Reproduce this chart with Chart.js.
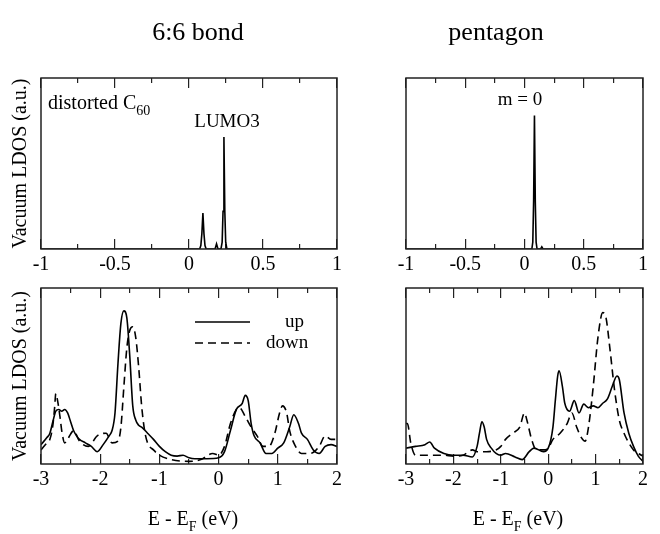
<!DOCTYPE html>
<html>
<head>
<meta charset="utf-8">
<script src="https://cdn.jsdelivr.net/npm/chart.js@4.4.1/dist/chart.umd.min.js"></script>
<style>
  html, body { margin: 0; padding: 0; background: #fff; overflow: hidden; }
  .box { position: absolute; }
</style>
</head>
<body>
<div class="box" style="left:0;top:0;width:356px;height:285px"><canvas id="bondTop"></canvas></div>
<div class="box" style="left:352px;top:0;width:310px;height:285px"><canvas id="pentTop"></canvas></div>
<div class="box" style="left:0;top:285px;width:356px;height:249px"><canvas id="bondBottom"></canvas></div>
<div class="box" style="left:352px;top:285px;width:310px;height:249px"><canvas id="pentBottom"></canvas></div>
<script>
// E - EF (eV), vacuum LDOS in arbitrary units (0..1 of panel height)
// top row: distorted C60 only, -1..1
var bondTop = [
    [-1, 0], [0.072, 0], [0.08, 0.02], [0.087, 0.09], [0.094, 0.21], [0.101, 0.09],
    [0.108, 0.02], [0.116, 0], [0.176, 0], [0.186, 0.03], [0.196, 0], [0.216, 0],
    [0.224, 0.04], [0.23, 0.22], [0.236, 0.655], [0.242, 0.22], [0.248, 0.04],
    [0.256, 0], [1, 0],
];
var pentTop = [
    [-1, 0], [0.062, 0], [0.07, 0.04], [0.077, 0.28], [0.084, 0.78], [0.091, 0.28],
    [0.098, 0.04], [0.106, 0], [0.136, 0], [0.146, 0.012], [0.156, 0], [1, 0],
];

// bottom row: spin up / spin down, -3..2
var bondUp = [
    [-3, 0.11], [-2.9, 0.15], [-2.85, 0.175], [-2.8, 0.24], [-2.75, 0.3], [-2.7, 0.31],
    [-2.65, 0.3], [-2.6, 0.31], [-2.55, 0.29], [-2.5, 0.24], [-2.45, 0.19], [-2.4, 0.16],
    [-2.35, 0.14], [-2.25, 0.12], [-2.15, 0.1], [-2.05, 0.07], [-1.95, 0.11], [-1.85, 0.16],
    [-1.8, 0.19], [-1.75, 0.29], [-1.7, 0.57], [-1.65, 0.8], [-1.6, 0.87], [-1.55, 0.83],
    [-1.5, 0.61], [-1.45, 0.33], [-1.4, 0.25], [-1.35, 0.22], [-1.3, 0.21], [-1.2, 0.175],
    [-1.1, 0.14], [-1.0, 0.1], [-0.9, 0.07], [-0.8, 0.05], [-0.7, 0.045], [-0.6, 0.05],
    [-0.5, 0.035], [-0.4, 0.03], [-0.2, 0.03], [0, 0.035], [0.1, 0.07], [0.2, 0.19],
    [0.3, 0.31], [0.4, 0.345], [0.45, 0.39], [0.5, 0.36], [0.55, 0.23], [0.6, 0.16],
    [0.7, 0.12], [0.8, 0.06], [0.9, 0.06], [1.0, 0.09], [1.1, 0.12], [1.2, 0.21],
    [1.27, 0.28], [1.35, 0.23], [1.4, 0.175], [1.5, 0.14], [1.6, 0.08], [1.7, 0.06],
    [1.8, 0.1], [1.9, 0.11], [2.0, 0.1],
];
var bondDown = [
    [-3, 0.08], [-2.9, 0.12], [-2.85, 0.14], [-2.8, 0.22], [-2.77, 0.32], [-2.75, 0.4],
    [-2.72, 0.36], [-2.68, 0.27], [-2.65, 0.19], [-2.6, 0.12], [-2.55, 0.14], [-2.5, 0.17],
    [-2.45, 0.19], [-2.35, 0.13], [-2.2, 0.1], [-2.05, 0.16], [-1.9, 0.175], [-1.8, 0.12],
    [-1.7, 0.13], [-1.65, 0.21], [-1.6, 0.44], [-1.55, 0.66], [-1.5, 0.76], [-1.45, 0.78],
    [-1.4, 0.72], [-1.35, 0.55], [-1.3, 0.33], [-1.25, 0.19], [-1.2, 0.12], [-1.1, 0.08],
    [-1.0, 0.05], [-0.8, 0.025], [-0.5, 0.015], [-0.3, 0.025], [-0.1, 0.06], [0, 0.05],
    [0.1, 0.1], [0.2, 0.23], [0.3, 0.31], [0.35, 0.32], [0.45, 0.27], [0.55, 0.21],
    [0.65, 0.16], [0.75, 0.1], [0.85, 0.1], [0.95, 0.175], [1.03, 0.29], [1.08, 0.33],
    [1.15, 0.29], [1.2, 0.19], [1.3, 0.1], [1.4, 0.06], [1.55, 0.06], [1.7, 0.1],
    [1.8, 0.16], [1.9, 0.14], [2.0, 0.14],
];
var pentUp = [
    [-3, 0.09], [-2.8, 0.1], [-2.6, 0.11], [-2.5, 0.125], [-2.4, 0.09], [-2.2, 0.06],
    [-2.0, 0.05], [-1.8, 0.05], [-1.6, 0.04], [-1.5, 0.1], [-1.45, 0.175], [-1.4, 0.24],
    [-1.35, 0.21], [-1.3, 0.14], [-1.2, 0.09], [-1.1, 0.06], [-1.0, 0.05], [-0.9, 0.06],
    [-0.7, 0.04], [-0.55, 0.025], [-0.4, 0.07], [-0.3, 0.09], [-0.1, 0.07], [0, 0.09],
    [0.1, 0.21], [0.15, 0.36], [0.2, 0.5], [0.23, 0.53], [0.3, 0.44], [0.35, 0.345],
    [0.45, 0.3], [0.55, 0.36], [0.65, 0.29], [0.75, 0.34], [0.85, 0.32], [0.95, 0.33],
    [1.05, 0.32], [1.15, 0.345], [1.25, 0.37], [1.35, 0.44], [1.45, 0.5], [1.5, 0.48],
    [1.6, 0.29], [1.7, 0.175], [1.8, 0.1], [1.9, 0.045], [2.0, 0.015],
];
var pentDown = [
    [-3, 0.23], [-2.97, 0.23], [-2.9, 0.12], [-2.8, 0.05], [-2.6, 0.05], [-2.2, 0.05],
    [-2.0, 0.045], [-1.8, 0.05], [-1.6, 0.08], [-1.5, 0.07], [-1.3, 0.07], [-1.1, 0.08],
    [-1.0, 0.1], [-0.9, 0.14], [-0.75, 0.175], [-0.6, 0.21], [-0.5, 0.29], [-0.45, 0.25],
    [-0.35, 0.14], [-0.25, 0.08], [-0.1, 0.08], [0, 0.09], [0.1, 0.14], [0.25, 0.175],
    [0.4, 0.23], [0.5, 0.29], [0.6, 0.21], [0.7, 0.15], [0.78, 0.13], [0.85, 0.21],
    [0.95, 0.44], [1.05, 0.72], [1.15, 0.86], [1.22, 0.83], [1.3, 0.66], [1.4, 0.42],
    [1.5, 0.25], [1.6, 0.175], [1.7, 0.12], [1.8, 0.08], [1.9, 0.06], [2.0, 0.045],
];

// tick values
var topMajor = [-1, -0.5, 0, 0.5, 1];
var topMinor = [-0.75, -0.25, 0.25, 0.75];
var bottomMajor = [-3, -2, -1, 0, 1, 2];
var bottomMinor = [-2.5, -1.5, -0.5, 0.5, 1.5];

var serif = "'Liberation Serif', 'Times New Roman', serif";

// per-canvas texts; plugin options would turn plain arrays into per-index lookups
var extras = {};

function toPoints(pairs) {
    return pairs.map(function (p) { return { x: p[0], y: p[1] }; });
}

function drawText(ctx, t) {
    var main = t.size + "px " + serif;
    var small = Math.round(t.size * 0.72) + "px " + serif;
    ctx.font = main;
    var w1 = ctx.measureText(t.text).width;
    ctx.font = small;
    var w2 = t.sub ? ctx.measureText(t.sub).width : 0;
    ctx.font = main;
    var w3 = t.tail ? ctx.measureText(t.tail).width : 0;
    var x = t.align === "left" ? t.x : t.x - (w1 + w2 + w3) / 2;
    ctx.fillText(t.text, x, t.y);
    if (t.sub) {
        ctx.font = small;
        ctx.fillText(t.sub, x + w1, t.y + t.size * 0.3);
    }
    if (t.tail) {
        ctx.font = main;
        ctx.fillText(t.tail, x + w1 + w2, t.y);
    }
}

// box frame, free text, legend samples
var decorPlugin = {
    id: "decor",
    afterDraw: function (chart) {
        var a = chart.chartArea;
        var ctx = chart.ctx;
        var ex = extras[chart.canvas.id] || { texts: [], lines: [] };
        ctx.save();
        ctx.strokeStyle = "#222";
        ctx.lineWidth = 1.5;
        ctx.strokeRect(a.left, a.top, a.right - a.left, a.bottom - a.top);

        ctx.fillStyle = "#000";
        ctx.textBaseline = "alphabetic";
        ctx.textAlign = "left";
        ex.texts.forEach(function (t) { drawText(ctx, t); });

        ex.lines.forEach(function (l) {
            ctx.beginPath();
            ctx.strokeStyle = "#000";
            ctx.lineWidth = 1.6;
            ctx.setLineDash(l.dash ? [8, 5] : []);
            ctx.moveTo(l.x1, l.y);
            ctx.lineTo(l.x2, l.y);
            ctx.stroke();
        });
        ctx.restore();
    },
};

// a label-less axis that only draws short inward tick marks at the given values
function tickAxis(values, lo, hi, yValue, length) {
    return {
        type: "linear",
        axis: "x",
        position: { y: yValue },
        min: lo,
        max: hi,
        afterBuildTicks: function (scale) {
            scale.ticks = values.map(function (v) { return { value: v }; });
        },
        ticks: { display: false },
        border: { display: false },
        grid: {
            display: true,
            drawOnChartArea: false,
            drawTicks: true,
            tickLength: length,
            color: "#222",
            lineWidth: 1.2,
        },
    };
}

function makeChart(id, cfg) {
    extras[id] = { texts: cfg.texts, lines: cfg.lines || [] };
    var lo = cfg.major[0];
    var hi = cfg.major[cfg.major.length - 1];
    return new Chart(document.getElementById(id).getContext("2d"), {
        type: "line",
        data: {
            datasets: cfg.series.map(function (s) {
                return {
                    data: toPoints(s.data),
                    xAxisID: "x",
                    yAxisID: "y",
                    borderColor: "#000",
                    borderWidth: 1.6,
                    borderDash: s.dash ? [8, 5] : [],
                    pointRadius: 0,
                    fill: false,
                    tension: cfg.smooth ? 0.4 : 0,
                    cubicInterpolationMode: cfg.smooth ? "monotone" : "default",
                };
            }),
        },
        options: {
            responsive: true,
            maintainAspectRatio: false,
            animation: false,
            devicePixelRatio: 1,
            layout: { padding: cfg.padding },
            plugins: {
                legend: { display: false },
                tooltip: { enabled: false },
            },
            scales: {
                x: {
                    type: "linear",
                    position: "bottom",
                    min: lo,
                    max: hi,
                    // major ticks pointing up into the plot
                    grid: {
                        display: true,
                        drawOnChartArea: false,
                        drawTicks: true,
                        tickLength: -10,
                        color: "#222",
                        lineWidth: 1.2,
                    },
                    border: { display: false },
                    afterBuildTicks: function (scale) {
                        scale.ticks = cfg.major.map(function (v) { return { value: v }; });
                    },
                    afterFit: function (scale) {
                        scale.height = cfg.xHeight;
                    },
                    ticks: {
                        color: "#000",
                        padding: 14,
                        maxRotation: 0,
                        autoSkip: false,
                        font: { family: serif, size: 20 },
                        callback: function (v) { return String(v); },
                    },
                },
                xMinorBottom: tickAxis(cfg.minor, lo, hi, 0, -5),
                xMajorTop: tickAxis(cfg.major, lo, hi, 1, 10),
                xMinorTop: tickAxis(cfg.minor, lo, hi, 1, 5),
                y: {
                    display: cfg.yTitle,
                    min: 0,
                    max: 1,
                    grid: { display: false, drawTicks: false },
                    border: { display: false },
                    ticks: { display: false },
                    afterFit: function (scale) {
                        scale.width = 41;
                    },
                    title: {
                        display: true,
                        text: "Vacuum LDOS (a.u.)",
                        color: "#000",
                        padding: { top: 9, bottom: 0 },
                        font: { family: serif, size: 20 },
                    },
                },
            },
        },
        plugins: [decorPlugin],
    });
}

makeChart("bondTop", {
    series: [{ data: bondTop }],
    major: topMajor, minor: topMinor,
    padding: { top: 78, right: 12, left: 0, bottom: 0 },
    xHeight: 36, yTitle: true, smooth: false,
    texts: [
        { text: "6:6 bond", x: 198, y: 40, size: 26 },
        { text: "distorted C", sub: "60", x: 48, y: 109, size: 20, align: "left" },
        { text: "LUMO3", x: 227, y: 127, size: 19 },
    ],
});

makeChart("pentTop", {
    series: [{ data: pentTop }],
    major: topMajor, minor: topMinor,
    padding: { top: 78, right: 6, left: 13, bottom: 0 },
    xHeight: 36, yTitle: false, smooth: false,
    texts: [
        { text: "pentagon", x: 144, y: 40, size: 26 },
        { text: "m = 0", x: 168, y: 105, size: 19 },
    ],
});

makeChart("bondBottom", {
    series: [{ data: bondUp }, { data: bondDown, dash: true }],
    major: bottomMajor, minor: bottomMinor,
    padding: { top: 3, right: 12, left: 0, bottom: 0 },
    xHeight: 70, yTitle: true, smooth: true,
    texts: [
        { text: "up", x: 285, y: 42, size: 19, align: "left" },
        { text: "down", x: 266, y: 63, size: 19, align: "left" },
        { text: "E - E", sub: "F", tail: " (eV)", x: 193, y: 240, size: 20 },
    ],
    lines: [
        { x1: 195, x2: 250, y: 37 },
        { x1: 195, x2: 250, y: 58, dash: true },
    ],
});

makeChart("pentBottom", {
    series: [{ data: pentUp }, { data: pentDown, dash: true }],
    major: bottomMajor, minor: bottomMinor,
    padding: { top: 3, right: 6, left: 13, bottom: 0 },
    xHeight: 70, yTitle: false, smooth: true,
    texts: [
        { text: "E - E", sub: "F", tail: " (eV)", x: 166, y: 240, size: 20 },
    ],
});
</script>
</body>
</html>
